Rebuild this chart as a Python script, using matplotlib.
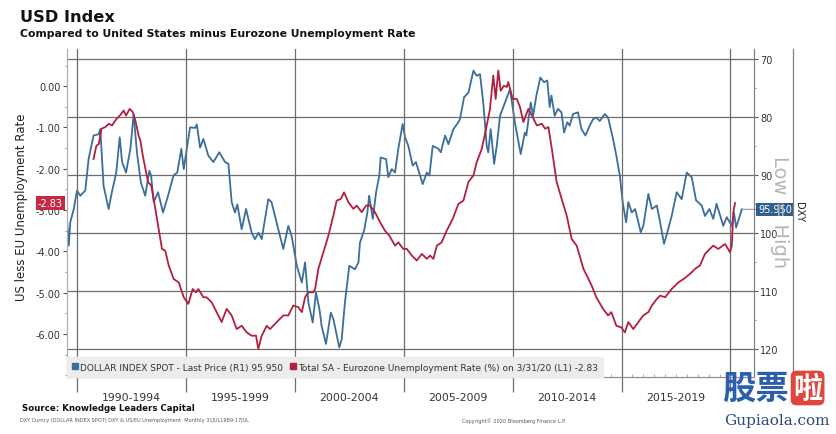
import matplotlib
matplotlib.use("Agg")
import matplotlib.pyplot as plt
import matplotlib.transforms as mtransforms
from matplotlib.lines import Line2D
import numpy as np

# ---------------- data ----------------
dxy_dates = [1989.54, 1989.62, 1989.69, 1989.85, 1990.00, 1990.15, 1990.38, 1990.53, 1990.76, 1990.99,
             1991.07, 1991.22, 1991.45, 1991.60, 1991.80, 1991.96, 1992.07, 1992.25, 1992.45, 1992.60,
             1992.75, 1992.93, 1993.13, 1993.32, 1993.40, 1993.52, 1993.72, 1993.95, 1994.18, 1994.43,
             1994.60, 1994.79, 1994.90, 1995.04, 1995.19, 1995.42, 1995.50, 1995.65, 1995.80, 1996.03,
             1996.26, 1996.53, 1996.80, 1996.95, 1997.10, 1997.25, 1997.36, 1997.56, 1997.76, 1998.02,
             1998.17, 1998.33, 1998.48, 1998.78, 1998.93, 1999.24, 1999.47, 1999.70, 1999.85, 2000.09,
             2000.32, 2000.47, 2000.62, 2000.82, 2000.97, 2001.13, 2001.23, 2001.43, 2001.65, 2001.77,
             2002.04, 2002.15, 2002.30, 2002.50, 2002.76, 2002.92, 2002.99, 2003.18, 2003.33, 2003.41,
             2003.58, 2003.73, 2003.88, 2003.94, 2004.19, 2004.29, 2004.45, 2004.60, 2004.75, 2004.95,
             2005.06, 2005.21, 2005.41, 2005.56, 2005.75, 2005.87, 2006.06, 2006.18, 2006.33, 2006.59,
             2006.70, 2006.90, 2007.05, 2007.28, 2007.51, 2007.58, 2007.77, 2007.97, 2008.20, 2008.35,
             2008.50, 2008.65, 2008.81, 2008.88, 2008.99, 2009.15, 2009.27, 2009.42, 2009.65, 2009.88,
             2010.10, 2010.37, 2010.56, 2010.63, 2010.83, 2010.94, 2011.09, 2011.27, 2011.44, 2011.59,
             2011.70, 2011.78, 2011.93, 2012.08, 2012.24, 2012.36, 2012.51, 2012.62, 2012.77, 2013.00,
             2013.16, 2013.34, 2013.54, 2013.69, 2013.84, 2014.00, 2014.23, 2014.38, 2014.61, 2014.76,
             2014.92, 2015.05, 2015.21, 2015.31, 2015.47, 2015.62, 2015.70, 2015.88, 2016.00, 2016.23,
             2016.39, 2016.62, 2016.77, 2016.95, 2017.08, 2017.30, 2017.53, 2017.76, 2017.99, 2018.22,
             2018.42, 2018.68, 2018.83, 2019.03, 2019.21, 2019.36, 2019.67, 2019.83, 2020.06, 2020.16,
             2020.26, 2020.52]
dxy_values = [97.6, 102.2, 98.2, 95.9, 92.7, 93.6, 92.7, 87.3, 83.2, 83.0,
              82.1, 91.9, 95.9, 93.0, 89.6, 83.5, 87.8, 89.6, 85.5, 79.5,
              86.1, 91.3, 93.6, 89.3, 90.1, 94.7, 93.0, 96.5, 93.6, 90.1,
              89.6, 85.5, 89.0, 85.5, 81.8, 81.9, 81.3, 85.3, 83.8, 86.7,
              87.8, 86.1, 87.8, 88.1, 94.7, 96.5, 95.1, 99.4, 95.9, 100.0,
              101.1, 100.0, 101.1, 94.2, 94.7, 99.4, 102.8, 98.8, 100.5, 105.7,
              108.6, 105.1, 112.0, 115.5, 110.3, 113.2, 116.1, 119.2, 113.8, 114.9,
              119.8, 118.4, 112.0, 105.7, 106.3, 105.1, 101.7, 99.6, 96.5, 93.6,
              97.6, 93.0, 90.1, 87.0, 87.3, 90.4, 89.0, 89.6, 85.5, 81.2,
              83.5, 85.0, 88.4, 87.8, 90.1, 91.6, 89.6, 90.1, 85.0, 85.5,
              86.1, 83.2, 84.7, 82.1, 80.9, 80.4, 76.6, 75.8, 72.0, 72.9,
              72.6, 77.5, 85.0, 86.1, 82.1, 88.1, 85.0, 79.8, 77.5, 75.2,
              80.9, 86.4, 82.7, 83.2, 77.5, 79.8, 76.3, 73.2, 74.0, 73.7,
              78.3, 76.3, 79.8, 78.6, 79.2, 82.7, 80.9, 81.5, 79.5, 79.2,
              82.1, 83.2, 81.5, 80.4, 80.1, 80.7, 79.5, 80.1, 83.8, 86.7,
              90.1, 94.7, 98.2, 94.7, 96.5, 95.9, 97.1, 99.9, 98.8, 93.3,
              95.9, 95.3, 98.2, 101.9, 100.2, 97.1, 93.0, 94.2, 89.6, 90.4,
              94.4, 95.3, 97.1, 95.9, 97.6, 95.0, 98.8, 97.3, 98.8, 96.5,
              99.1, 95.95]

unemp_dates = [1990.76, 1990.89, 1991.00, 1991.12, 1991.30, 1991.46, 1991.61, 1991.76, 1992.03, 1992.14,
               1992.25, 1992.42, 1992.56, 1992.68, 1992.83, 1992.91, 1993.02, 1993.26, 1993.41, 1993.52,
               1993.75, 1993.90, 1994.05, 1994.21, 1994.44, 1994.67, 1994.90, 1995.11, 1995.31, 1995.46,
               1995.57, 1995.80, 1995.95, 1996.18, 1996.41, 1996.64, 1996.87, 1997.10, 1997.33, 1997.56,
               1997.79, 1998.02, 1998.22, 1998.32, 1998.48, 1998.71, 1998.86, 1999.17, 1999.47, 1999.70,
               1999.93, 2000.16, 2000.32, 2000.47, 2000.62, 2000.85, 2000.93, 2001.08, 2001.31, 2001.54,
               2001.77, 2001.92, 2002.11, 2002.26, 2002.46, 2002.69, 2002.84, 2003.07, 2003.27, 2003.45,
               2003.68, 2003.91, 2004.14, 2004.34, 2004.60, 2004.75, 2004.98, 2005.14, 2005.37, 2005.60,
               2005.83, 2006.06, 2006.21, 2006.36, 2006.52, 2006.74, 2006.97, 2007.25, 2007.51, 2007.74,
               2007.97, 2008.20, 2008.35, 2008.58, 2008.81, 2008.96, 2009.11, 2009.22, 2009.34, 2009.45,
               2009.60, 2009.73, 2009.80, 2010.00, 2010.19, 2010.34, 2010.49, 2010.72, 2010.88, 2011.11,
               2011.34, 2011.49, 2011.64, 2011.80, 2012.02, 2012.25, 2012.48, 2012.71, 2012.94, 2013.25,
               2013.63, 2013.84, 2014.15, 2014.38, 2014.53, 2014.76, 2014.99, 2015.15, 2015.31, 2015.54,
               2015.77, 2016.00, 2016.23, 2016.39, 2016.62, 2016.77, 2017.00, 2017.30, 2017.61, 2017.84,
               2018.15, 2018.38, 2018.60, 2018.83, 2019.05, 2019.21, 2019.44, 2019.75, 2019.98, 2020.06,
               2020.13, 2020.21]
unemp_values = [-1.76, -1.44, -1.40, -1.03, -0.99, -0.91, -0.95, -0.83, -0.67, -0.59,
                -0.71, -0.55, -0.63, -0.83, -1.20, -1.32, -1.68, -2.32, -2.41, -2.73,
                -3.46, -3.94, -3.98, -4.34, -4.67, -4.75, -5.11, -5.27, -4.91, -4.99,
                -4.91, -5.11, -5.11, -5.23, -5.47, -5.71, -5.39, -5.55, -5.88, -5.80,
                -5.96, -6.04, -6.04, -6.36, -6.04, -5.80, -5.88, -5.71, -5.55, -5.55,
                -5.31, -5.35, -5.47, -5.11, -4.99, -4.99, -4.91, -4.42, -4.02, -3.62,
                -3.13, -2.77, -2.73, -2.57, -2.81, -2.97, -2.89, -3.05, -2.89, -2.89,
                -3.05, -3.29, -3.50, -3.62, -3.86, -3.78, -3.94, -3.94, -4.10, -4.22,
                -4.06, -4.18, -4.10, -4.18, -3.86, -3.78, -3.50, -3.21, -2.85, -2.77,
                -2.32, -2.16, -1.84, -1.52, -0.95, -0.55, 0.26, -0.31, 0.38, -0.11,
                0.01, -0.02, 0.10, -0.31, -0.31, -0.51, -0.87, -0.55, -0.71, -0.95,
                -0.91, -1.03, -0.99, -1.52, -2.32, -2.73, -3.13, -3.70, -3.86, -4.42,
                -4.83, -5.11, -5.39, -5.55, -5.47, -5.80, -5.84, -5.96, -5.71, -5.88,
                -5.71, -5.55, -5.47, -5.31, -5.15, -5.07, -5.11, -4.91, -4.75, -4.67,
                -4.54, -4.42, -4.34, -4.06, -3.94, -3.86, -3.94, -3.82, -4.02, -3.86,
                -3.05, -2.83]

period_starts = [1990, 1995, 2000, 2005, 2010, 2015, 2020]
period_labels = ["1990-1994", "1995-1999", "2000-2004", "2005-2009", "2010-2014", "2015-2019"]
left_ticks = [0.0, -1.0, -2.0, -3.0, -4.0, -5.0, -6.0]
right_ticks = [70, 80, 90, 100, 110, 120]

# ---------------- styling ----------------
BLUE = "#3b6e9b"
RED = "#b2203f"
GRID = "#6e6e6e"
TXT = "#333333"

W, H = 836, 435
fig = plt.figure(figsize=(W / 100, H / 100), dpi=100)
fig.patch.set_facecolor("white")


def fx(px):
    return px / W


def fy(py):
    return 1 - py / H


ax = fig.add_axes([fx(67), fy(378), fx(754) - fx(67), fy(50) - fy(378)])
ax2 = ax.twinx()
ax.set_zorder(ax2.get_zorder() + 1)
ax.patch.set_visible(False)

ax.set_xlim(1989.54, 2021.08)
ax.set_ylim(-7.04, 0.90)
ax2.set_ylim(124.9, 68.27)

# lines
ax2.plot(dxy_dates, dxy_values, color=BLUE, lw=1.3, zorder=3)
ax.plot(unemp_dates, unemp_values, color=RED, lw=1.3, zorder=3)

# x axis: separators + period labels
mids = [(a + b) / 2 for a, b in zip(period_starts[:-1], period_starts[1:])]
ax.set_xticks(period_starts)
ax.set_xticklabels([])
ax.set_xticks(mids, minor=True)
ax.set_xticklabels(period_labels, minor=True)
ax.tick_params(axis="x", which="major", length=10.5, width=0.9, color=GRID, direction="out")
ax.tick_params(axis="x", which="minor", length=0, pad=11, labelsize=7.8, labelcolor=TXT)
ax.xaxis.grid(True, which="major", color=GRID, lw=0.9)

# left axis
ax.set_yticks(left_ticks)
ax.set_yticklabels([f"{v:.2f}" for v in left_ticks])
ax.set_yticks(np.arange(-7.0, 1.0, 0.5), minor=True)
ax.tick_params(axis="y", which="major", length=3, width=0.8, color="#555555", labelsize=7,
               labelcolor=TXT, pad=1.5)
ax.tick_params(axis="y", which="minor", length=1.5, width=0.6, color="#888888")

# right axis
ax2.set_yticks(right_ticks)
ax2.set_yticks([75, 85, 95, 105, 115], minor=True)
ax2.tick_params(axis="y", which="major", length=3, width=0.8, color="#555555", labelsize=7,
                labelcolor=TXT, pad=1.5)
ax2.tick_params(axis="y", which="minor", length=1.5, width=0.6, color="#888888")
ax2.yaxis.grid(True, which="major", color=GRID, lw=0.9)

for a in (ax, ax2):
    a.spines["top"].set_visible(False)
    a.spines["left"].set_color("#b0b0b0")
    a.spines["right"].set_color("#808080")
    a.spines["bottom"].set_color("#909090")

# small inner ticks along the bottom
sec = ax.secondary_xaxis("bottom")
sec.set_xticks(np.arange(1990, 2021, 0.5))
sec.tick_params(direction="in", length=2.5, width=0.6, color="#9a9a9a", labelbottom=False)
sec.spines["bottom"].set_visible(False)

# legend
handles = [Line2D([], [], marker="s", ls="none", color=BLUE, markersize=4.8),
           Line2D([], [], marker="s", ls="none", color=RED, markersize=4.8)]
labels = [f"DOLLAR INDEX SPOT - Last Price (R1) {dxy_values[-1]:.3f}",
          f"Total SA - Eurozone Unemployment Rate (%) on 3/31/20 (L1) {unemp_values[-1]:.2f}"]
leg = ax.legend(handles, labels, loc="lower left", bbox_to_anchor=(0, 0), ncol=2,
                frameon=True, fancybox=False, facecolor="#ececec", edgecolor="#ececec",
                framealpha=1, borderaxespad=0, fontsize=6.45, handlelength=0.6,
                handletextpad=0.25, columnspacing=0.8, borderpad=0.6, labelcolor=TXT)
leg.set_zorder(5)

# last-value tags
ax2.annotate(f"{dxy_values[-1]:.3f}", xy=(dxy_dates[-1], dxy_values[-1]),
             xytext=(1.006, dxy_values[-1]), textcoords=("axes fraction", "data"),
             ha="left", va="center", color="white", fontsize=7,
             bbox=dict(boxstyle="square,pad=0.18", fc="#2f5f8c", ec="none"),
             arrowprops=dict(arrowstyle="-", color="#8a8a8a", lw=0.7, shrinkA=0, shrinkB=0),
             annotation_clip=False, zorder=6)
trans = mtransforms.blended_transform_factory(ax.transAxes, ax.transData)
ax.text(-0.006, unemp_values[-1], f"{unemp_values[-1]:.2f}", transform=trans, ha="right",
        va="center", color="white", fontsize=7, zorder=6, clip_on=False,
        bbox=dict(boxstyle="square,pad=0.22", fc="#c42a43", ec="none"))

# side texts
fig.text(fx(780), fy(212), "Low = High", rotation=-90, fontsize=14, color="#b5b5b5",
         ha="center", va="center", zorder=0)
fig.text(fx(799), fy(212), "DXY", rotation=-90, fontsize=7, color="#222222",
         ha="center", va="center")
fig.add_artist(Line2D([fx(793), fx(793)], [fy(50), fy(378)], color="#808080", lw=0.9))
fig.text(fx(22), fy(207), "US less EU Unemployment Rate", rotation=90, fontsize=8.5,
         color="#222222", ha="center", va="center")

# titles
fig.text(fx(20), fy(17.5), "USD Index", fontsize=11.7, fontweight="bold", color="#111111",
         ha="left", va="center")
fig.text(fx(20), fy(34), "Compared to United States minus Eurozone Unemployment Rate",
         fontsize=7.8, fontweight="bold", color="#111111", ha="left", va="center")

# footer
fig.text(fx(22), fy(409), "Source: Knowledge Leaders Capital", fontsize=6.2, fontweight="bold",
         color="#111111", ha="left", va="center")
fig.text(fx(20), fy(421), "DXY Curncy (DOLLAR INDEX SPOT) DXY & US/EU Unemployment  Monthly 31JUL1989-17JUL",
         fontsize=3.6, color="#555555", ha="left", va="center")
fig.text(fx(462), fy(421), "Copyright\u00a9 2020 Bloomberg Finance L.P.", fontsize=3.6,
         color="#555555", ha="left", va="center")

# watermark
fig.text(fx(722), fy(389), "股票", fontsize=24, fontweight="bold", color="#2b5fae",
         family=["Noto Sans CJK SC", "DejaVu Sans"], ha="left", va="center")
fig.text(fx(793), fy(389), "啦", fontsize=21, fontweight="bold", color="white",
         family=["Noto Sans CJK SC", "DejaVu Sans"], ha="left", va="center",
         bbox=dict(boxstyle="round,pad=0.08,rounding_size=0.2", fc="#e0473c", ec="none"))
fig.text(fx(777), fy(421), "Gupiaola.com", fontsize=11, color="#2d4b7a", family="DejaVu Serif",
         ha="center", va="center")

fig.savefig("out.png", dpi=100, facecolor="white")
